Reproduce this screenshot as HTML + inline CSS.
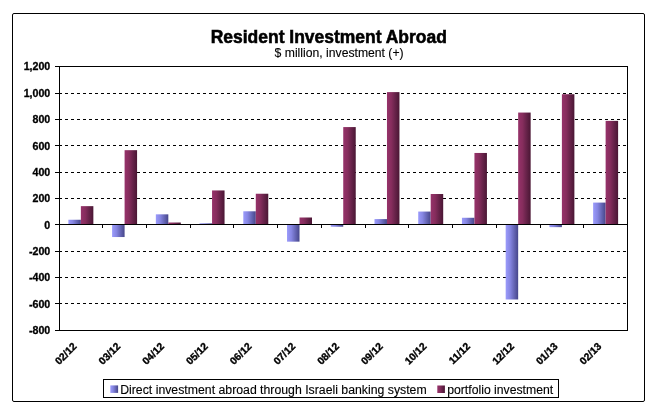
<!DOCTYPE html>
<html><head><meta charset="utf-8"><title>Resident Investment Abroad</title>
<style>
html,body{margin:0;padding:0;background:#fff}
svg{display:block}
text{font-family:"Liberation Sans",Arial,sans-serif;fill:#000;stroke:#000;stroke-width:0.3px}
.t{font-weight:bold;font-size:17.5px;stroke-width:0.55px}
.s{font-size:12px;stroke-width:0.12px}
.y{font-weight:bold;font-size:10.67px}
.x{font-weight:bold;font-size:10.3px;stroke-width:0.35px}
.l{font-size:12px;stroke-width:0.12px}
</style></head><body>
<svg width="658" height="414" viewBox="0 0 658 414">
<defs>
<linearGradient id="gb" x1="0" y1="0" x2="1" y2="0"><stop offset="0" stop-color="#9b9bfc"/><stop offset="0.35" stop-color="#8686e2"/><stop offset="0.7" stop-color="#6363b2"/><stop offset="1" stop-color="#46468a"/></linearGradient>
<linearGradient id="gp" x1="0" y1="0" x2="1" y2="0"><stop offset="0" stop-color="#96326a"/><stop offset="0.35" stop-color="#862d5d"/><stop offset="0.65" stop-color="#68234a"/><stop offset="1" stop-color="#4a1634"/></linearGradient>
</defs>
<rect width="658" height="414" fill="#fff"/>
<rect x="12.5" y="13.5" width="632" height="388" rx="1.5" fill="#fff" stroke="#000" stroke-width="1"/>

<g stroke="#000" stroke-width="1" stroke-dasharray="3,3" shape-rendering="crispEdges">
<line x1="59" y1="93.5" x2="627.5" y2="93.5"/>
<line x1="59" y1="119.5" x2="627.5" y2="119.5"/>
<line x1="59" y1="145.5" x2="627.5" y2="145.5"/>
<line x1="59" y1="172.5" x2="627.5" y2="172.5"/>
<line x1="59" y1="198.5" x2="627.5" y2="198.5"/>
<line x1="59" y1="251.5" x2="627.5" y2="251.5"/>
<line x1="59" y1="277.5" x2="627.5" y2="277.5"/>
<line x1="59" y1="303.5" x2="627.5" y2="303.5"/>
</g>
<g>
<rect x="68.37" y="219.75" width="12.49" height="4.75" fill="url(#gb)"/>
<rect x="80.86" y="206.15" width="12.49" height="18.35" fill="url(#gp)"/>
<rect x="112.10" y="224.50" width="12.49" height="12.54" fill="url(#gb)"/>
<rect x="124.59" y="150.18" width="12.49" height="74.32" fill="url(#gp)"/>
<rect x="155.83" y="214.34" width="12.49" height="10.16" fill="url(#gb)"/>
<rect x="168.32" y="222.52" width="12.49" height="1.98" fill="url(#gp)"/>
<rect x="199.56" y="223.31" width="12.49" height="1.19" fill="url(#gb)"/>
<rect x="212.06" y="190.44" width="12.49" height="34.06" fill="url(#gp)"/>
<rect x="243.29" y="211.30" width="12.49" height="13.20" fill="url(#gb)"/>
<rect x="255.78" y="193.74" width="12.49" height="30.76" fill="url(#gp)"/>
<rect x="287.02" y="224.50" width="12.49" height="17.16" fill="url(#gb)"/>
<rect x="299.51" y="217.50" width="12.49" height="7.00" fill="url(#gp)"/>
<rect x="330.75" y="224.50" width="12.49" height="2.24" fill="url(#gb)"/>
<rect x="343.24" y="127.08" width="12.49" height="97.42" fill="url(#gp)"/>
<rect x="374.48" y="219.09" width="12.49" height="5.41" fill="url(#gb)"/>
<rect x="386.97" y="92.10" width="12.49" height="132.40" fill="url(#gp)"/>
<rect x="418.21" y="211.56" width="12.49" height="12.94" fill="url(#gb)"/>
<rect x="430.70" y="194.01" width="12.49" height="30.49" fill="url(#gp)"/>
<rect x="461.94" y="217.77" width="12.49" height="6.73" fill="url(#gb)"/>
<rect x="474.44" y="152.96" width="12.49" height="71.54" fill="url(#gp)"/>
<rect x="505.67" y="224.50" width="12.49" height="74.98" fill="url(#gb)"/>
<rect x="518.16" y="112.56" width="12.49" height="111.94" fill="url(#gp)"/>
<rect x="549.40" y="224.50" width="12.49" height="2.64" fill="url(#gb)"/>
<rect x="561.89" y="94.22" width="12.49" height="130.28" fill="url(#gp)"/>
<rect x="593.13" y="202.59" width="12.49" height="21.91" fill="url(#gb)"/>
<rect x="605.62" y="120.88" width="12.49" height="103.62" fill="url(#gp)"/>
</g>
<g stroke="#000" stroke-width="1" fill="none" shape-rendering="crispEdges">
<rect x="59.5" y="66.5" width="568.0" height="264.0"/>
<line x1="59.5" y1="224.5" x2="627.5" y2="224.5"/>
<line x1="55" y1="66.5" x2="59.5" y2="66.5"/>
<line x1="55" y1="93.5" x2="59.5" y2="93.5"/>
<line x1="55" y1="119.5" x2="59.5" y2="119.5"/>
<line x1="55" y1="145.5" x2="59.5" y2="145.5"/>
<line x1="55" y1="172.5" x2="59.5" y2="172.5"/>
<line x1="55" y1="198.5" x2="59.5" y2="198.5"/>
<line x1="55" y1="224.5" x2="59.5" y2="224.5"/>
<line x1="55" y1="251.5" x2="59.5" y2="251.5"/>
<line x1="55" y1="277.5" x2="59.5" y2="277.5"/>
<line x1="55" y1="303.5" x2="59.5" y2="303.5"/>
<line x1="55" y1="330.5" x2="59.5" y2="330.5"/>
<line x1="59.5" y1="224.5" x2="59.5" y2="228"/>
<line x1="102.5" y1="224.5" x2="102.5" y2="228"/>
<line x1="146.5" y1="224.5" x2="146.5" y2="228"/>
<line x1="190.5" y1="224.5" x2="190.5" y2="228"/>
<line x1="233.5" y1="224.5" x2="233.5" y2="228"/>
<line x1="277.5" y1="224.5" x2="277.5" y2="228"/>
<line x1="321.5" y1="224.5" x2="321.5" y2="228"/>
<line x1="365.5" y1="224.5" x2="365.5" y2="228"/>
<line x1="408.5" y1="224.5" x2="408.5" y2="228"/>
<line x1="452.5" y1="224.5" x2="452.5" y2="228"/>
<line x1="496.5" y1="224.5" x2="496.5" y2="228"/>
<line x1="540.5" y1="224.5" x2="540.5" y2="228"/>
<line x1="583.5" y1="224.5" x2="583.5" y2="228"/>
<line x1="627.5" y1="224.5" x2="627.5" y2="228"/>
</g>
<text class="y" x="50.3" y="70.4" text-anchor="end">1,200</text>
<text class="y" x="50.3" y="96.8" text-anchor="end">1,000</text>
<text class="y" x="50.3" y="123.1" text-anchor="end">800</text>
<text class="y" x="50.3" y="149.5" text-anchor="end">600</text>
<text class="y" x="50.3" y="175.9" text-anchor="end">400</text>
<text class="y" x="50.3" y="202.2" text-anchor="end">200</text>
<text class="y" x="50.3" y="228.6" text-anchor="end">0</text>
<text class="y" x="50.3" y="255.0" text-anchor="end">-200</text>
<text class="y" x="50.3" y="281.4" text-anchor="end">-400</text>
<text class="y" x="50.3" y="307.7" text-anchor="end">-600</text>
<text class="y" x="50.3" y="334.1" text-anchor="end">-800</text>
<text class="x" x="77.4" y="347" text-anchor="end" transform="rotate(-45 77.4 347)">02/12</text>
<text class="x" x="121.1" y="347" text-anchor="end" transform="rotate(-45 121.1 347)">03/12</text>
<text class="x" x="164.8" y="347" text-anchor="end" transform="rotate(-45 164.8 347)">04/12</text>
<text class="x" x="208.6" y="347" text-anchor="end" transform="rotate(-45 208.6 347)">05/12</text>
<text class="x" x="252.3" y="347" text-anchor="end" transform="rotate(-45 252.3 347)">06/12</text>
<text class="x" x="296.0" y="347" text-anchor="end" transform="rotate(-45 296.0 347)">07/12</text>
<text class="x" x="339.7" y="347" text-anchor="end" transform="rotate(-45 339.7 347)">08/12</text>
<text class="x" x="383.5" y="347" text-anchor="end" transform="rotate(-45 383.5 347)">09/12</text>
<text class="x" x="427.2" y="347" text-anchor="end" transform="rotate(-45 427.2 347)">10/12</text>
<text class="x" x="470.9" y="347" text-anchor="end" transform="rotate(-45 470.9 347)">11/12</text>
<text class="x" x="514.7" y="347" text-anchor="end" transform="rotate(-45 514.7 347)">12/12</text>
<text class="x" x="558.4" y="347" text-anchor="end" transform="rotate(-45 558.4 347)">01/13</text>
<text class="x" x="602.1" y="347" text-anchor="end" transform="rotate(-45 602.1 347)">02/13</text>
<text class="t" x="210.7" y="42.6" textLength="236.2" lengthAdjust="spacingAndGlyphs">Resident Investment Abroad</text>
<text class="s" x="274.6" y="57.1" textLength="129" lengthAdjust="spacingAndGlyphs">$ million, investment (+)</text>
<rect x="103.5" y="379.5" width="455" height="18" fill="#fff" stroke="#000" stroke-width="1" shape-rendering="crispEdges"/>
<rect x="110.3" y="385.4" width="7.8" height="7.5" fill="url(#gb)"/>
<text class="l" x="120.2" y="394" textLength="306.5" lengthAdjust="spacingAndGlyphs">Direct investment abroad through Israeli banking system</text>
<rect x="437.3" y="385.5" width="7.6" height="7.5" fill="url(#gp)"/>
<text class="l" x="447.2" y="394" textLength="106" lengthAdjust="spacingAndGlyphs">portfolio investment</text>
</svg></body></html>
